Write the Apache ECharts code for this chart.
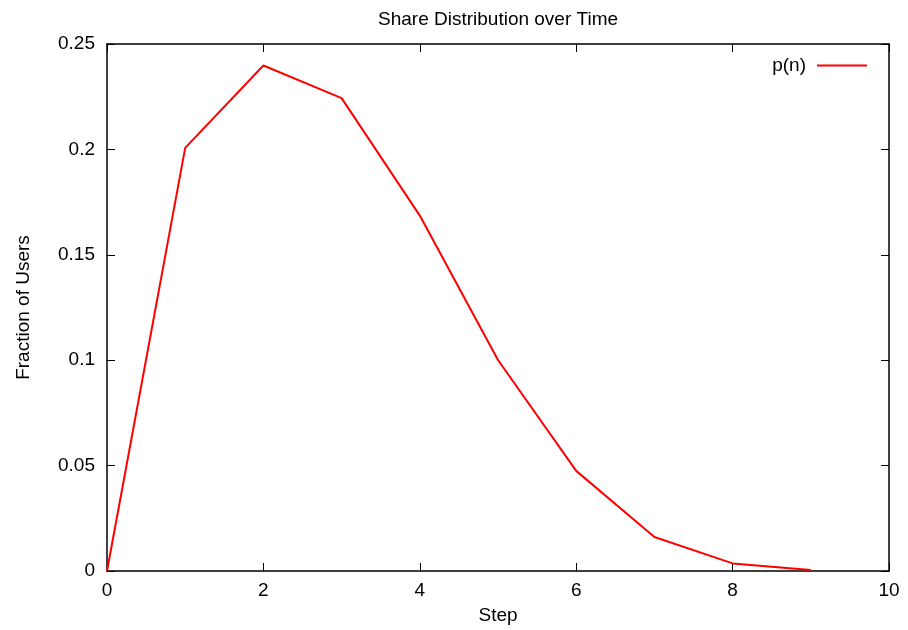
<!DOCTYPE html>
<html>
<head>
<meta charset="utf-8">
<script src="https://cdn.jsdelivr.net/npm/echarts@6/dist/echarts.min.js"></script>
<style>
  html, body { margin: 0; padding: 0; background: #fff; }
  #main { width: 908px; height: 630px; }
</style>
</head>
<body>
<div id="main"></div>
<script>
// values
let steps = [0, 1, 2, 3, 4, 5, 6, 7, 8, 9];
let shares = [0, 0.2007, 0.2398, 0.2243, 0.1686, 0.1001, 0.0475, 0.0161, 0.0036, 0.0005];
let seriesName = 'p(n)';

let font = 'Liberation Sans, Arial, sans-serif';
let fontSize = 19;

let points = steps.map((s, i) => [s, shares[i]]);

// gnuplot style: box border with inward ticks on all sides
let tickStyle = { show: true, inside: true, length: 8, lineStyle: { color: '#000', width: 1 } };
let borderLine = { show: true, onZero: false, lineStyle: { color: '#000', width: 1.5 } };

let option = {
    animation: false,
    // title is centred over the plot box, not the canvas
    title: {
        text: 'Share Distribution over Time',
        left: 373,
        top: 5,
        textStyle: { fontFamily: font, fontSize: fontSize, fontWeight: 'normal', color: '#000' }
    },
    legend: {
        data: [seriesName],
        right: 35,
        top: 51,
        align: 'right',
        itemWidth: 50,
        itemHeight: 2,
        itemGap: 12,
        textStyle: { fontFamily: font, fontSize: fontSize, color: '#000', padding: [0, 6, 0, 0] }
    },
    grid: { left: 107, right: 19, top: 44, bottom: 57 },
    xAxis: [{
        type: 'value',
        min: 0,
        max: 10,
        interval: 2,
        name: 'Step',
        nameLocation: 'middle',
        nameGap: 35,
        nameTextStyle: { fontFamily: font, fontSize: fontSize, color: '#000' },
        axisLine: borderLine,
        axisTick: tickStyle,
        axisLabel: { fontFamily: font, fontSize: fontSize, color: '#000', margin: 10 },
        splitLine: { show: false }
    }, {
        type: 'value',
        position: 'top',
        min: 0,
        max: 10,
        interval: 2,
        axisLine: borderLine,
        axisTick: tickStyle,
        axisLabel: { show: false },
        splitLine: { show: false }
    }],
    yAxis: [{
        type: 'value',
        min: 0,
        max: 0.25,
        interval: 0.05,
        name: 'Fraction of Users',
        nameLocation: 'middle',
        nameGap: 74,
        nameTextStyle: { fontFamily: font, fontSize: fontSize, color: '#000' },
        axisLine: borderLine,
        axisTick: tickStyle,
        axisLabel: { fontFamily: font, fontSize: fontSize, color: '#000', margin: 12 },
        splitLine: { show: false }
    }, {
        type: 'value',
        position: 'right',
        min: 0,
        max: 0.25,
        interval: 0.05,
        axisLine: borderLine,
        axisTick: tickStyle,
        axisLabel: { show: false },
        splitLine: { show: false }
    }],
    series: [{
        name: seriesName,
        type: 'line',
        data: points,
        symbol: 'none',
        lineStyle: { color: '#ff0000', width: 2 },
        itemStyle: { color: '#ff0000' }
    }]
};

echarts.init(document.getElementById('main')).setOption(option);
</script>
</body>
</html>
